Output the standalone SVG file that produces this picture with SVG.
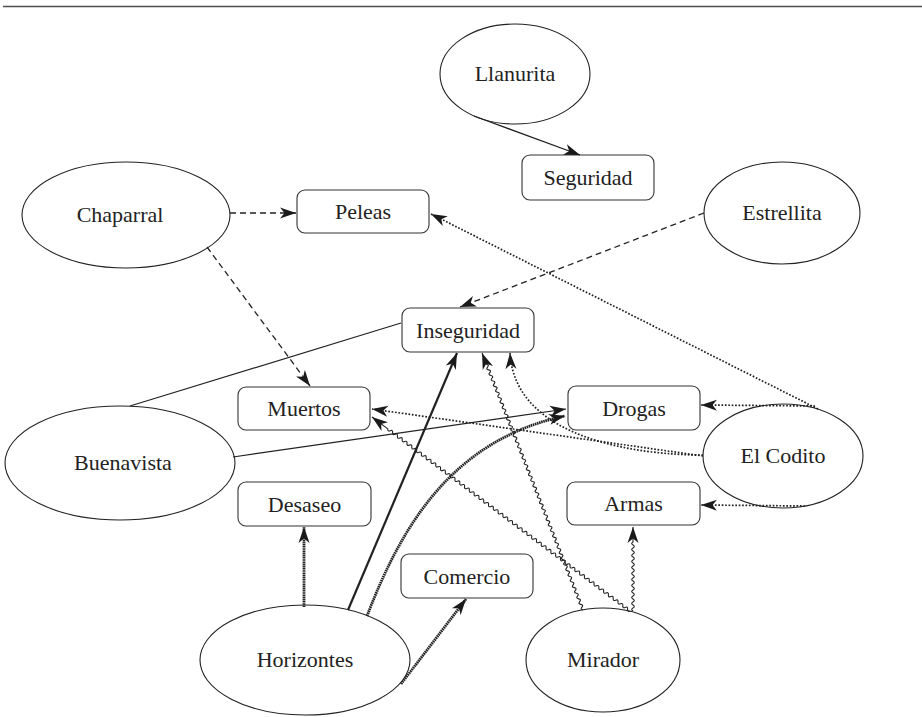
<svg xmlns="http://www.w3.org/2000/svg" width="922" height="717" viewBox="0 0 922 717">
<style>
.n ellipse{fill:#fff;stroke:#222;stroke-width:1.1}
.n rect{fill:#fff;stroke:#333;stroke-width:1.1}
text{font-family:"Liberation Serif","DejaVu Serif",serif;font-size:22px;fill:#222;text-anchor:middle}
.c path,.c line{fill:none;stroke:#222}
.solid{stroke-width:1.2}
.bold{stroke-width:2.2}
.dash{stroke-width:1.3;stroke-dasharray:6 4}
.dot{stroke-width:1.7;stroke-dasharray:1.7 1.7}
.tex{stroke-width:2.8;stroke:#333;stroke-dasharray:1.6 0.6}
.wav{stroke-width:1.1}
</style>
<defs>
<marker id="ah" viewBox="0 0 16 12" refX="16" refY="6" markerWidth="16" markerHeight="12" markerUnits="userSpaceOnUse" orient="auto"><path d="M16,6 L0,0.5 L4.5,6 L0,11.5 Z" fill="#1a1a1a"/></marker>
</defs>
<line x1="3" y1="6.5" x2="922" y2="6.5" stroke="#4d4d4d" stroke-width="1.5"/>
<g id="llanurita" class="n"><ellipse cx="515" cy="74" rx="75" ry="50"/><text x="515" y="81">Llanurita</text></g>
<g id="seguridad" class="n"><rect x="522" y="155" width="132" height="45" rx="8"/><text x="588" y="185">Seguridad</text></g>
<g id="chaparral" class="n"><ellipse cx="126" cy="215" rx="104" ry="53"/><text x="120" y="222">Chaparral</text></g>
<g id="peleas" class="n"><rect x="297" y="190" width="132" height="43" rx="8"/><text x="363" y="219">Peleas</text></g>
<g id="estrellita" class="n"><ellipse cx="782" cy="213" rx="78" ry="51"/><text x="782" y="220">Estrellita</text></g>
<g id="inseguridad" class="n"><rect x="402" y="308" width="132" height="44" rx="8"/><text x="468" y="337.5">Inseguridad</text></g>
<g id="muertos" class="n"><rect x="238" y="387" width="132" height="43" rx="8"/><text x="304" y="416">Muertos</text></g>
<g id="drogas" class="n"><rect x="568" y="386" width="132" height="44" rx="8"/><text x="634" y="415.5">Drogas</text></g>
<g id="buenavista" class="n"><ellipse cx="120" cy="463" rx="115" ry="57"/><text x="123" y="470">Buenavista</text></g>
<g id="elcodito" class="n"><ellipse cx="783" cy="456" rx="80" ry="52"/><text x="783" y="463">El Codito</text></g>
<g id="desaseo" class="n"><rect x="238" y="482" width="133" height="44" rx="8"/><text x="304.5" y="511.5">Desaseo</text></g>
<g id="armas" class="n"><rect x="567" y="482" width="133" height="43" rx="8"/><text x="633.5" y="511">Armas</text></g>
<g id="comercio" class="n"><rect x="401" y="554" width="132" height="44" rx="8"/><text x="467" y="583.5">Comercio</text></g>
<g id="horizontes" class="n"><ellipse cx="305" cy="660" rx="105" ry="55"/><text x="305" y="667">Horizontes</text></g>
<g id="mirador" class="n"><ellipse cx="603" cy="660" rx="77" ry="52"/><text x="603" y="667">Mirador</text></g>
<g id="connectors" class="c">
<line class="solid" x1="474" y1="116" x2="580" y2="155" marker-end="url(#ah)"/>
<line class="dash" x1="230" y1="213" x2="296" y2="213" marker-end="url(#ah)"/>
<line class="dash" x1="207" y1="247" x2="310" y2="386" marker-end="url(#ah)"/>
<line class="dash" x1="704" y1="213" x2="460" y2="307" marker-end="url(#ah)"/>
<line class="dot" x1="818" y1="409" x2="431" y2="214" marker-end="url(#ah)"/>
<line class="dot" x1="815" y1="406" x2="701" y2="405" marker-end="url(#ah)"/>
<path class="dot" d="M703,455 C640,455 515,440 510,353" marker-end="url(#ah)"/>
<line class="dot" x1="703" y1="456" x2="372" y2="409" marker-end="url(#ah)"/>
<line class="dot" x1="805" y1="506" x2="701" y2="505" marker-end="url(#ah)"/>
<line class="solid" x1="130" y1="406" x2="401" y2="323"/>
<line class="solid" x1="233" y1="457" x2="566" y2="409" marker-end="url(#ah)"/>
<line class="tex" x1="304" y1="607" x2="304" y2="527" marker-end="url(#ah)"/>
<line class="bold" x1="348" y1="610" x2="457" y2="353" marker-end="url(#ah)"/>
<path class="tex" d="M367,616 C400,530 450,440 565,416" marker-end="url(#ah)"/>
<line class="tex" x1="401" y1="684" x2="466" y2="599" marker-end="url(#ah)"/>
<path class="wav" transform="translate(633,611) rotate(-90)" d="M0,0 q1.5,-2.6 3,0 t3,0 t3,0 t3,0 t3,0 t3,0 t3,0 t3,0 t3,0 t3,0 t3,0 t3,0 t3,0 t3,0 t3,0 t3,0 t3,0 t3,0 t3,0 t3,0 t3,0 t3,0 t3,0 L84,0" marker-end="url(#ah)"/>
<path class="wav" transform="translate(630,611) rotate(-143.06)" d="M0,0 q1.5,-2.6 3,0 t3,0 t3,0 t3,0 t3,0 t3,0 t3,0 t3,0 t3,0 t3,0 t3,0 t3,0 t3,0 t3,0 t3,0 t3,0 t3,0 t3,0 t3,0 t3,0 t3,0 t3,0 t3,0 t3,0 t3,0 t3,0 t3,0 t3,0 t3,0 t3,0 t3,0 t3,0 t3,0 t3,0 t3,0 t3,0 t3,0 t3,0 t3,0 t3,0 t3,0 t3,0 t3,0 t3,0 t3,0 t3,0 t3,0 t3,0 t3,0 t3,0 t3,0 t3,0 t3,0 t3,0 t3,0 t3,0 t3,0 t3,0 t3,0 t3,0 t3,0 t3,0 t3,0 t3,0 t3,0 t3,0 t3,0 t3,0 t3,0 t3,0 t3,0 t3,0 t3,0 t3,0 t3,0 t3,0 t3,0 t3,0 t3,0 t3,0 t3,0 t3,0 t3,0 t3,0 t3,0 t3,0 t3,0 t3,0 t3,0 t3,0 t3,0 t3,0 t3,0 t3,0 t3,0 t3,0 t3,0 t3,0 t3,0 t3,0 t3,0 L322.8,0" marker-end="url(#ah)"/>
<path class="wav" transform="translate(583,610) rotate(-111.45)" d="M0,0 q1.5,-2.6 3,0 t3,0 t3,0 t3,0 t3,0 t3,0 t3,0 t3,0 t3,0 t3,0 t3,0 t3,0 t3,0 t3,0 t3,0 t3,0 t3,0 t3,0 t3,0 t3,0 t3,0 t3,0 t3,0 t3,0 t3,0 t3,0 t3,0 t3,0 t3,0 t3,0 t3,0 t3,0 t3,0 t3,0 t3,0 t3,0 t3,0 t3,0 t3,0 t3,0 t3,0 t3,0 t3,0 t3,0 t3,0 t3,0 t3,0 t3,0 t3,0 t3,0 t3,0 t3,0 t3,0 t3,0 t3,0 t3,0 t3,0 t3,0 t3,0 t3,0 t3,0 t3,0 t3,0 t3,0 t3,0 t3,0 t3,0 t3,0 t3,0 t3,0 t3,0 t3,0 t3,0 t3,0 t3,0 t3,0 t3,0 t3,0 t3,0 t3,0 t3,0 t3,0 t3,0 t3,0 t3,0 t3,0 t3,0 t3,0 L276.1,0" marker-end="url(#ah)"/>
</g>
</svg>
